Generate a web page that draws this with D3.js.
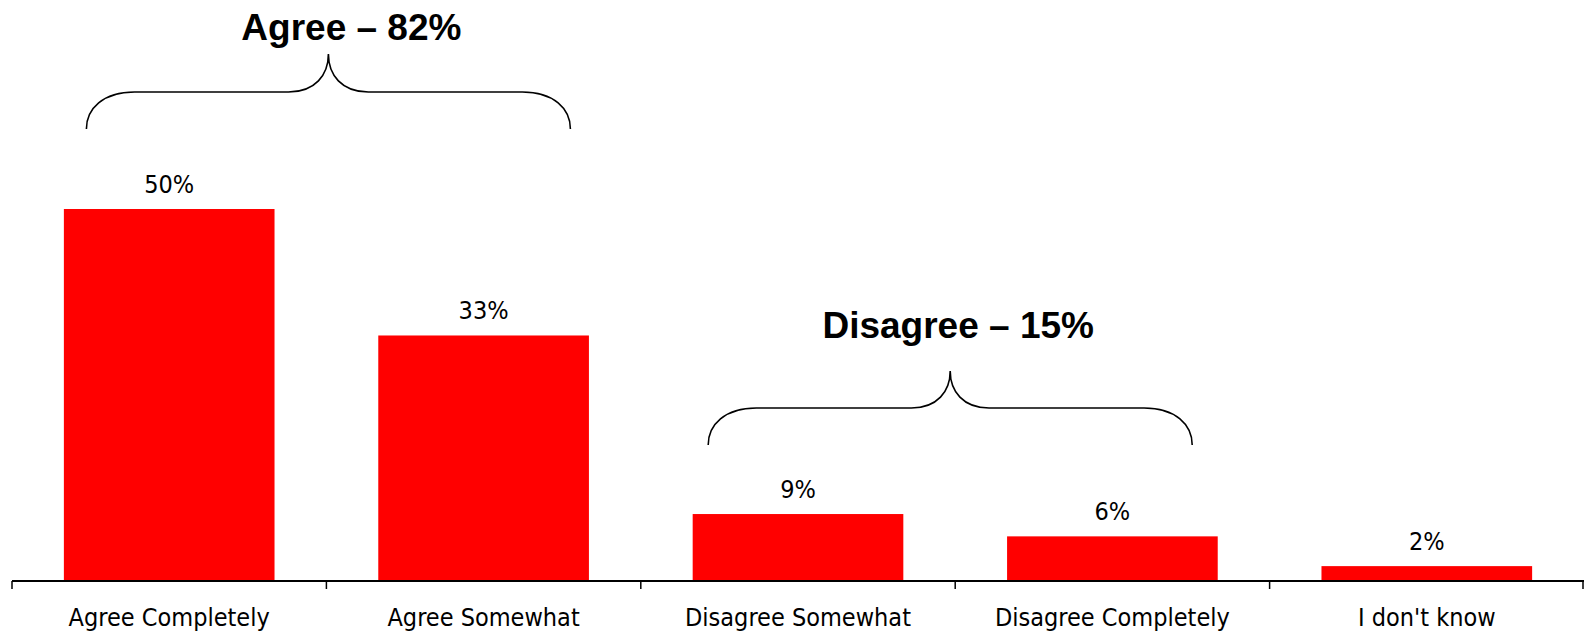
<!DOCTYPE html>
<html><head><meta charset="utf-8">
<script src="https://cdn.jsdelivr.net/npm/d3@7"></script>
<style>
html,body{margin:0;padding:0;background:#fff;}
svg{display:block;}
.lbl{font-family:"DejaVu Sans Condensed","DejaVu Sans",sans-serif;font-stretch:condensed;}
.grp{font-family:"Liberation Sans",Arial,sans-serif;font-weight:bold;}
</style>
</head><body>
<svg id="chart" width="1584" height="634"></svg>
<script>
const categories = ["Agree Completely","Agree Somewhat","Disagree Somewhat","Disagree Completely","I don't know"];
const values = [50, 33, 9, 6, 2];
const valueLabels = ["50%","33%","9%","6%","2%"];
const groupTitles = ["Agree – 82%","Disagree – 15%"];
const groupMembers = [[0,1],[2,3]];

const W = 1584, H = 634;
const svg = d3.select("#chart");
const x = d3.scaleBand().domain(categories).range([12, 1584]).paddingInner(0.33).paddingOuter(0.165);
const y = d3.scaleLinear().domain([0, 50]).range([581, 209]);

// bars
svg.append("g").selectAll("rect").data(values).join("rect")
  .attr("x", (d,i)=>x(categories[i]))
  .attr("y", d=>y(d))
  .attr("width", x.bandwidth())
  .attr("height", d=>y(0)-y(d))
  .attr("fill", "#FF0000");

// value labels
svg.append("g").selectAll("text").data(values).join("text")
  .attr("class","lbl")
  .attr("x", (d,i)=>x(categories[i]) + x.bandwidth()/2)
  .attr("y", d=>y(d) - 16)
  .attr("text-anchor","middle")
  .attr("font-size", 25)
  .attr("fill","#000")
  .text((d,i)=>valueLabels[i]);

// axis with ticks at band boundaries
const axisG = svg.append("g");
const step = x.step();
const x0 = x(categories[0]) - x.paddingOuter()*step;
axisG.append("line").attr("x1", x0).attr("x2", 1584).attr("y1", y(0)).attr("y2", y(0))
  .attr("stroke","#000").attr("stroke-width",2);
const tickXs = d3.range(categories.length+1).map(i=> Math.min(x0 + i*step, 1583));
axisG.selectAll("line.tick").data(tickXs).join("line").attr("class","tick")
  .attr("x1",d=>d).attr("x2",d=>d).attr("y1",y(0)).attr("y2",y(0)+8)
  .attr("stroke","#000").attr("stroke-width",1.5);
axisG.selectAll("text").data(categories).join("text")
  .attr("class","lbl")
  .attr("x", d=>x(d)+x.bandwidth()/2)
  .attr("y", 626)
  .attr("text-anchor","middle")
  .attr("font-size", 25)
  .attr("fill","#000")
  .text(d=>d);

// braces + group titles
const braceLayout = [{bottom:129, mid:92, tip:54, titleY:40, dx:2, tdx:23}, {bottom:445, mid:408, tip:371, titleY:338, dx:-5, tdx:8}];
const halfW = 242;
function bracePath(xc, b){
  const xl = xc - halfW, xr = xc + halfW;
  const dv = b.bottom - b.mid, dt = b.mid - b.tip;
  return `M${xl},${b.bottom} C${xl},${b.bottom-dv*0.55} ${xl+dv*0.45},${b.mid} ${xl+dv*1.3},${b.mid}`+
    ` L${xc-dt*1.05},${b.mid} C${xc-dt*0.35},${b.mid} ${xc},${b.mid-dt*0.45} ${xc},${b.tip}`+
    ` C${xc},${b.mid-dt*0.45} ${xc+dt*0.35},${b.mid} ${xc+dt*1.05},${b.mid}`+
    ` L${xr-dv*1.3},${b.mid} C${xr-dv*0.45},${b.mid} ${xr},${b.bottom-dv*0.55} ${xr},${b.bottom}`;
}
groupMembers.forEach((m,gi)=>{
  const a = x(categories[m[0]]), bEnd = x(categories[m[1]]) + x.bandwidth();
  const b = braceLayout[gi];
  const xc = (a + bEnd)/2 + b.dx;
  svg.append("path").attr("d", bracePath(xc, b)).attr("fill","none").attr("stroke","#000").attr("stroke-width",1.6);
  svg.append("text").attr("class","grp")
    .attr("x", xc + b.tdx).attr("y", b.titleY)
    .attr("text-anchor","middle").attr("font-size",37).attr("fill","#000")
    .text(groupTitles[gi]);
});
</script>
</body></html>
